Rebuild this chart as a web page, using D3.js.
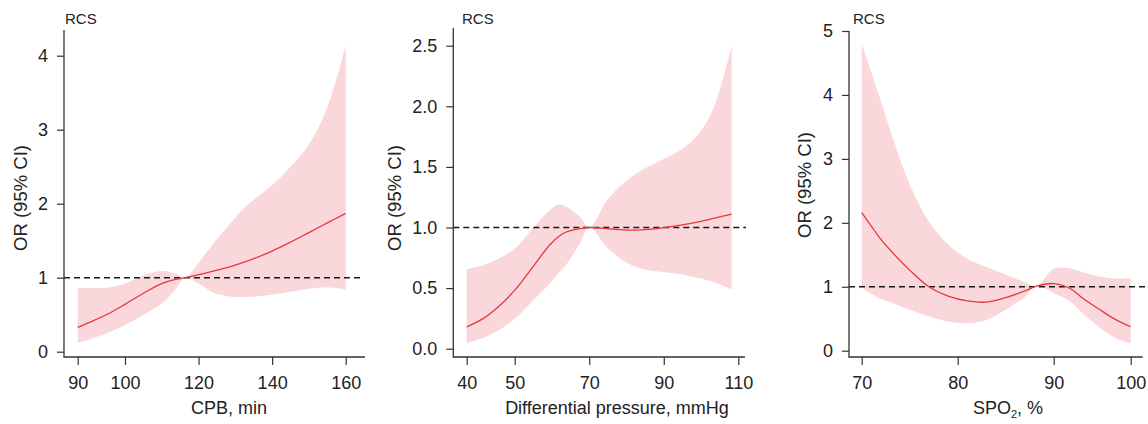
<!DOCTYPE html>
<html>
<head>
<meta charset="utf-8">
<script src="https://cdn.jsdelivr.net/npm/d3@7"></script>
<style>
  body { margin: 0; background: #fff; }
  svg { display: block; font-family: "Liberation Sans", Arial, Helvetica, sans-serif; }
</style>
</head>
<body>
<svg width="1148" height="424"></svg>
<script>
// data

// panel 1: CPB, min
const cpbX     = [90, 93, 97, 100, 105, 110, 114, 116.3, 120, 124, 128, 133, 140, 145, 150, 155, 160];
const cpbFit   = [0.33, 0.41, 0.53, 0.64, 0.79, 0.92, 0.98, 1.0, 1.04, 1.09, 1.14, 1.22, 1.36, 1.48, 1.61, 1.74, 1.87];
const cpbLower = [0.12, 0.18, 0.27, 0.36, 0.50, 0.65, 0.86, 1.0, 0.92, 0.80, 0.75, 0.74, 0.77, 0.81, 0.85, 0.87, 0.84];
const cpbUpper = [0.86, 0.86, 0.87, 0.92, 1.03, 1.09, 1.05, 1.0, 1.2, 1.46, 1.7, 1.97, 2.25, 2.5, 2.8, 3.3, 4.14];
const cpbXTicks = [90, 100, 120, 140, 160];
const cpbYTicks = [0, 1, 2, 3, 4];

// panel 2: differential pressure, mmHg
const dpX     = [40, 43.5, 47, 50.5, 55, 59.5, 62, 64, 67.5, 70, 74.7, 79, 84, 89, 94.5, 99, 103.3, 108.2];
const dpFit   = [0.18, 0.25, 0.36, 0.50, 0.68, 0.86, 0.93, 0.965, 0.99, 1.0, 0.99, 0.98, 0.98, 0.995, 1.02, 1.045, 1.075, 1.11];
const dpLower = [0.045, 0.09, 0.16, 0.26, 0.40, 0.54, 0.63, 0.70, 0.87, 1.0, 0.84, 0.73, 0.66, 0.635, 0.615, 0.585, 0.55, 0.49];
const dpUpper = [0.655, 0.69, 0.75, 0.84, 1.0, 1.145, 1.19, 1.17, 1.09, 1.0, 1.22, 1.36, 1.47, 1.55, 1.64, 1.76, 1.98, 2.5];
const dpXTicks = [40, 50, 70, 90, 110];
const dpYTicks = [0, 0.5, 1, 1.5, 2, 2.5];

// panel 3: SPO2, %
const spoX     = [70, 71, 72, 73.3, 75, 77, 79, 81, 83, 85, 87, 88.2, 90, 92, 94, 96, 98, 100];
const spoFit   = [2.16, 1.95, 1.74, 1.52, 1.26, 1.0, 0.855, 0.78, 0.76, 0.83, 0.935, 1.01, 1.05, 0.98, 0.80, 0.64, 0.49, 0.375];
const spoLower = [0.99, 0.89, 0.81, 0.74, 0.64, 0.535, 0.455, 0.43, 0.48, 0.64, 0.84, 1.01, 0.90, 0.78, 0.56, 0.36, 0.20, 0.115];
const spoUpper = [4.80, 4.35, 3.9, 3.3, 2.6, 2.02, 1.66, 1.44, 1.31, 1.19, 1.07, 1.01, 1.28, 1.29, 1.22, 1.16, 1.13, 1.13];
const spoXTicks = [70, 80, 90, 100];
const spoYTicks = [0, 1, 2, 3, 4, 5];

const refValue = 1;

// colours
const bandColor = "#f9d7da",
      lineColor = "#e8383a",
      axisColor = "#333",
      textColor = "#222";

const svg = d3.select("svg");

// panel layout (the x axes are not evenly spaced at their first/last tick in the original)
const panels = [
  { x: cpbX, fit: cpbFit, lo: cpbLower, hi: cpbUpper, xTicks: cpbXTicks, yTicks: cpbYTicks,
    xDom: [90, 100, 160], xRange: [77.7, 125, 345.7], yRange: [351.7, 55.7],
    left: 64, right: 365, top: 30, bottom: 357, refEnd: 360,
    yFmt: d3.format("d"), xTitle: "CPB, min", xTitleX: 229, yTitleX: 21, yTitleY: 198, rcsX: 65 },
  { x: dpX, fit: dpFit, lo: dpLower, hi: dpUpper, xTicks: dpXTicks, yTicks: dpYTicks,
    xDom: [40, 50, 110], xRange: [466.7, 514.7, 738.3], yRange: [348.7, 45.7],
    left: 453.3, right: 745, top: 28, bottom: 357, refEnd: 746,
    yFmt: d3.format(".1f"), xTitle: "Differential pressure, mmHg", xTitleX: 617, yTitleX: 395, yTitleY: 198, rcsX: 462 },
  { x: spoX, fit: spoFit, lo: spoLower, hi: spoUpper, xTicks: spoXTicks, yTicks: spoYTicks,
    xDom: [70, 90, 100], xRange: [861.7, 1053.7, 1130.7], yRange: [350.7, 31],
    left: 849, right: 1142.7, top: 31, bottom: 357, refEnd: 1148,
    yFmt: d3.format("d"), xTitle: null, xTitleX: 1008, yTitleX: 805, yTitleY: 185, rcsX: 853 }
];

const curve = d3.curveCatmullRom.alpha(0.5);

panels.forEach(p => {
  const g = svg.append("g");

  const x = d3.scaleLinear().domain(p.xDom).range(p.xRange);
  const y = d3.scaleLinear()
              .domain([0, d3.max(p.yTicks)])
              .range(p.yRange);

  const rows = p.x.map((v, i) => ({ x: v, fit: p.fit[i], lo: p.lo[i], hi: p.hi[i] }));

  // confidence band
  g.append("path")
   .datum(rows)
   .attr("fill", bandColor)
   .attr("d", d3.area()
                .curve(curve)
                .x(d => x(d.x))
                .y0(d => y(d.lo))
                .y1(d => y(d.hi)));

  // reference line at OR = 1
  g.append("line")
   .attr("x1", p.left).attr("x2", p.refEnd)
   .attr("y1", y(refValue)).attr("y2", y(refValue))
   .attr("stroke", "#1a1a1a")
   .attr("stroke-width", 1.5)
   .attr("stroke-dasharray", "6,4");

  // fitted curve
  g.append("path")
   .datum(rows)
   .attr("fill", "none")
   .attr("stroke", lineColor)
   .attr("stroke-width", 1.3)
   .attr("d", d3.line()
                .curve(curve)
                .x(d => x(d.x))
                .y(d => y(d.fit)));

  // axes
  const yAxis = g.append("g")
     .attr("transform", `translate(${p.left},0)`)
     .call(d3.axisLeft(y).tickValues(p.yTicks).tickFormat(p.yFmt).tickSize(7).tickPadding(9));

  const xAxis = g.append("g")
     .attr("transform", `translate(0,${p.bottom})`)
     .call(d3.axisBottom(x).tickValues(p.xTicks).tickFormat(d3.format("d")).tickSize(8).tickPadding(11));

  [yAxis, xAxis].forEach(a => {
    a.select(".domain").remove();
    a.selectAll("line").attr("stroke", axisColor).attr("stroke-width", 1.2);
    a.selectAll("text")
     .attr("fill", textColor)
     .style("font-size", "18px")
     .style("font-family", "'Liberation Sans', Arial, sans-serif");
  });

  // L-shaped frame
  g.append("path")
   .attr("d", `M${p.left},${p.top}V${p.bottom}H${p.right}`)
   .attr("fill", "none")
   .attr("stroke", axisColor)
   .attr("stroke-width", 1.3);

  // RCS label
  g.append("text")
   .attr("x", p.rcsX).attr("y", 24)
   .attr("fill", textColor)
   .style("font-size", "15px")
   .text("RCS");

  // y title
  g.append("text")
   .attr("transform", `translate(${p.yTitleX + 6},${p.yTitleY}) rotate(-90)`)
   .attr("text-anchor", "middle")
   .attr("fill", textColor)
   .style("font-size", "18.5px")
   .text("OR (95% CI)");

  // x title
  const xt = g.append("text")
     .attr("x", p.xTitleX).attr("y", 414)
     .attr("text-anchor", "middle")
     .attr("fill", textColor)
     .style("font-size", "18px");

  if (p.xTitle) {
    xt.text(p.xTitle);
  } else {
    xt.append("tspan").text("SPO");
    xt.append("tspan").attr("dy", 4).style("font-size", "11px").text("2");
    xt.append("tspan").attr("dy", -4).text(", %");
  }
});
</script>
</body>
</html>
